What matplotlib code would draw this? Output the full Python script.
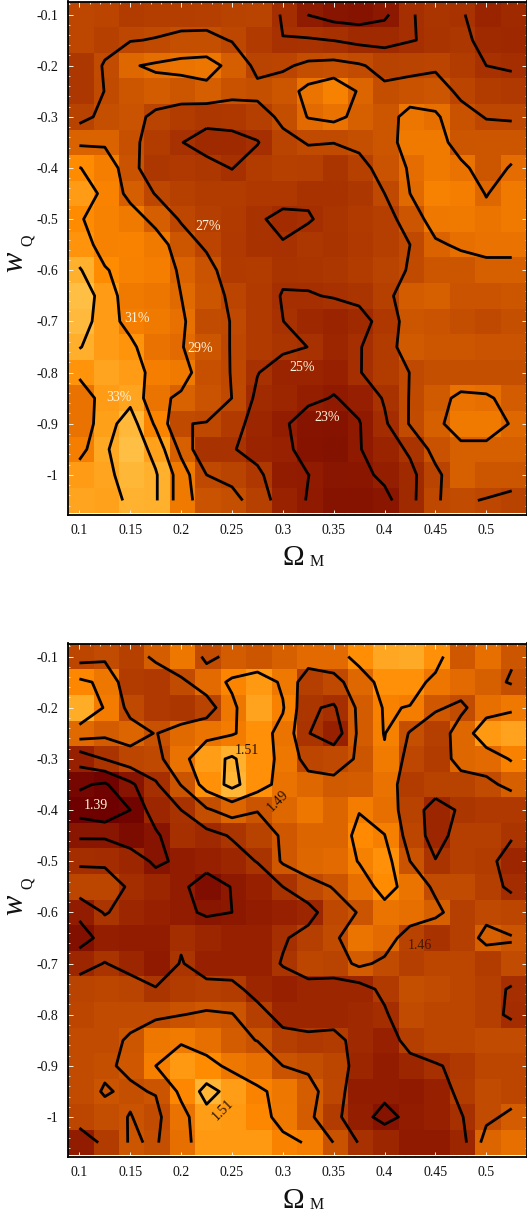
import numpy as np
import matplotlib
matplotlib.use('Agg')
import matplotlib.pyplot as plt
from matplotlib.colors import LinearSegmentedColormap, Normalize
from matplotlib.ticker import MultipleLocator, FixedLocator, FixedFormatter

plt.rcParams['font.family'] = ['Liberation Serif', 'DejaVu Serif']

omega_m = [0.1, 0.125, 0.15, 0.175, 0.2, 0.225, 0.25, 0.275, 0.3, 0.325, 0.35, 0.375, 0.4, 0.425, 0.45, 0.475, 0.5, 0.525]
w_q = [-0.1, -0.15, -0.2, -0.25, -0.3, -0.35, -0.4, -0.45, -0.5, -0.55, -0.6, -0.65, -0.7, -0.75, -0.8, -0.85, -0.9, -0.95, -1.0, -1.05]

pct = [
 [26.9,26.6,26.0,26.1,26.1,26.2,26.4,26.5,24.8,22.95,22.2,22.0,22.6,24.9,25.4,25.2,24.0,24.5],
 [26.8,26.3,26.9,27.1,27.5,27.5,26.9,25.8,25.04,25.2,24.95,24.5,24.4,24.9,25.3,25.5,24.4,24.3],
 [25.5,27.2,28.85,29.25,29.6,29.8,28.4,26.5,26.7,27.4,27.6,27.2,26.4,26.5,26.7,25.9,25.0,24.8],
 [25.5,27.05,28.0,28.3,28.0,28.4,27.7,27.5,28.0,29.6,30.5,28.8,27.4,27.7,27.9,26.6,26.0,25.7],
 [26.4,27.5,27.8,26.5,26.0,25.5,25.6,26.2,27.4,29.1,29.5,28.5,28.0,29.8,29.3,27.7,26.9,26.8],
 [28.7,28.7,27.6,26.0,25.05,24.4,24.5,24.9,26.5,27.1,27.05,27.5,28.0,30.0,30.0,28.0,28.0,28.0],
 [31.05,30.3,27.8,25.5,25.7,25.5,24.95,25.9,26.3,26.2,25.4,26.3,27.8,29.2,30.0,29.5,28.0,29.2],
 [32.0,30.6,28.4,26.9,26.3,26.0,25.9,25.6,25.6,25.2,25.2,25.5,27.0,29.0,30.5,30.3,28.9,30.0],
 [31.1,30.5,30.0,28.4,26.8,26.2,25.8,25.2,24.6,24.9,25.4,25.8,26.2,27.9,29.9,30.0,29.6,30.0],
 [31.6,30.5,30.6,30.0,28.0,26.65,25.7,25.2,25.1,25.5,25.3,25.7,26.2,27.0,28.7,29.3,29.5,29.5],
 [33.2,31.1,30.5,30.3,28.7,27.8,25.8,25.9,25.3,25.4,25.5,26.0,26.5,27.1,28.0,28.0,28.5,28.5],
 [34.5,32.0,30.0,29.8,29.0,28.0,26.6,25.8,24.9,24.9,25.1,25.4,26.3,28.3,28.5,27.8,27.8,28.0],
 [34.0,32.0,30.3,30.0,29.4,27.2,26.98,25.8,25.02,24.3,24.0,24.4,25.6,28.0,27.8,27.3,27.0,27.5],
 [33.1,32.0,31.5,29.5,29.1,28.0,26.9,25.8,25.4,24.98,24.2,24.9,25.9,28.2,28.0,28.0,27.8,27.8],
 [31.5,32.5,32.0,30.3,30.0,27.6,26.95,25.08,24.0,24.0,23.6,24.9,26.0,27.03,27.5,27.5,27.5,27.5],
 [29.5,32.0,32.5,29.6,28.6,27.8,26.99,24.56,24.2,23.4,22.9,23.5,25.2,27.1,28.2,29.5,29.3,28.3],
 [29.5,32.2,33.9,30.7,27.05,26.94,25.8,24.2,23.3,22.1,21.9,22.9,24.7,27.15,28.5,30.0,30.0,28.85],
 [30.3,32.7,34.5,32.3,28.5,25.2,25.2,24.0,23.7,22.0,21.8,22.9,24.0,25.3,27.7,28.5,28.5,28.5],
 [32.0,32.5,33.8,33.2,30.0,27.0,26.56,25.6,23.1,23.02,22.3,22.4,23.45,24.47,26.5,28.5,28.0,28.0],
 [32.5,32.3,33.3,33.2,30.0,27.8,27.5,26.3,23.85,22.9,22.0,22.0,22.4,24.4,26.95,27.2,26.9,26.4],
]

chi = [
 [1.455,1.46,1.451,1.471,1.485,1.46,1.47,1.467,1.472,1.478,1.478,1.499,1.512,1.514,1.50,1.468,1.48,1.467],
 [1.495,1.485,1.447,1.445,1.46,1.478,1.494,1.505,1.486,1.45,1.458,1.476,1.50,1.50,1.484,1.478,1.472,1.463],
 [1.515,1.488,1.458,1.445,1.443,1.453,1.485,1.51,1.492,1.443,1.437,1.47,1.492,1.489,1.468,1.46,1.48,1.486],
 [1.477,1.47,1.475,1.464,1.477,1.483,1.488,1.50,1.483,1.441,1.425,1.47,1.491,1.463,1.45,1.476,1.505,1.51],
 [1.425,1.441,1.455,1.458,1.482,1.507,1.518,1.50,1.485,1.455,1.458,1.467,1.487,1.456,1.447,1.476,1.478,1.492],
 [1.393,1.387,1.41,1.437,1.466,1.50,1.522,1.50,1.482,1.476,1.469,1.47,1.482,1.448,1.452,1.452,1.459,1.472],
 [1.38,1.37,1.39,1.43,1.44,1.462,1.475,1.466,1.476,1.485,1.475,1.489,1.48,1.452,1.43,1.443,1.445,1.445],
 [1.412,1.412,1.40,1.41,1.438,1.432,1.442,1.452,1.468,1.475,1.475,1.4965,1.4905,1.455,1.43,1.45,1.45,1.442],
 [1.436,1.435,1.43,1.41,1.42,1.425,1.43,1.441,1.468,1.476,1.478,1.491,1.50,1.465,1.441,1.45,1.447,1.43],
 [1.455,1.455,1.436,1.43,1.42,1.403,1.416,1.425,1.44,1.458,1.466,1.48,1.497,1.483,1.46,1.46,1.45,1.435],
 [1.42,1.442,1.43,1.425,1.42,1.412,1.415,1.42,1.425,1.43,1.457,1.466,1.483,1.48,1.472,1.45,1.458,1.455],
 [1.405,1.423,1.42,1.42,1.436,1.43,1.425,1.425,1.437,1.45,1.46,1.483,1.478,1.452,1.44,1.45,1.472,1.466],
 [1.43,1.441,1.43,1.418,1.442,1.425,1.425,1.425,1.442,1.455,1.453,1.47,1.46,1.45,1.455,1.455,1.447,1.46],
 [1.453,1.455,1.453,1.442,1.448,1.45,1.448,1.43,1.425,1.43,1.43,1.43,1.446,1.463,1.46,1.455,1.45,1.437],
 [1.455,1.46,1.46,1.46,1.4645,1.468,1.466,1.45,1.43,1.43,1.43,1.432,1.4365,1.46,1.455,1.455,1.45,1.435],
 [1.46,1.46,1.467,1.485,1.487,1.48,1.47,1.4645,1.45,1.445,1.447,1.432,1.425,1.45,1.455,1.455,1.46,1.46],
 [1.46,1.463,1.4675,1.49,1.505,1.497,1.485,1.48,1.465,1.462,1.455,1.43,1.42,1.43,1.438,1.445,1.455,1.455],
 [1.46,1.466,1.463,1.466,1.495,1.523,1.507,1.493,1.485,1.471,1.456,1.42,1.42,1.418,1.425,1.447,1.46,1.455],
 [1.455,1.461,1.4655,1.46,1.482,1.507,1.505,1.495,1.486,1.47,1.448,1.422,1.409,1.42,1.425,1.438,1.46,1.47],
 [1.42,1.447,1.467,1.463,1.48,1.505,1.505,1.505,1.493,1.489,1.4645,1.4385,1.43,1.418,1.418,1.43,1.475,1.48],
]

pct_levels = [23, 25, 27, 29, 31, 33]
chi_levels = [1.39, 1.415, 1.44, 1.465, 1.49, 1.515]
x_ticks = [0.1, 0.15, 0.2, 0.25, 0.3, 0.35, 0.4, 0.45, 0.5]
y_ticks = [-0.1, -0.2, -0.3, -0.4, -0.5, -0.6, -0.7, -0.8, -0.9, -1.0]
y_tick_labels = ['-0.1', '-0.2', '-0.3', '-0.4', '-0.5', '-0.6', '-0.7', '-0.8', '-0.9', '-1']
x_tick_labels = ['0.1', '0.15', '0.2', '0.25', '0.3', '0.35', '0.4', '0.45', '0.5']

cmap = LinearSegmentedColormap.from_list('heat', [
    (0.00, '#6e0000'), (0.25, '#962000'), (0.50, '#c85200'), (0.60, '#e87000'),
    (0.70, '#ff8a00'), (0.82, '#ffae2a'), (1.00, '#ffd060')])

W, H = 527, 1216

def panel(top, bottom, z, levels, vmin, vmax, labels):
    ax = plt.figure(1).add_axes([68/W, 1-bottom/H, (W-68)/W, (bottom-top)/H])
    x = np.array(omega_m); y = np.array(w_q); z = np.array(z)
    xe = np.append(x-0.0125, x[-1]+0.0125) + 0.0015
    ye = np.append(y+0.025, y[-1]-0.025)
    ax.pcolormesh(xe, ye, z, cmap=cmap, norm=Normalize(vmin, vmax), shading='flat',
                  antialiased=False, linewidth=0)
    ax.contour(x, y, z, levels=levels, colors='black', linewidths=2.0)
    ax.set_xlim(0.0888, 0.5400)
    ax.set_ylim(-1.0775, -0.0745)
    ax.xaxis.set_major_locator(FixedLocator(x_ticks))
    ax.xaxis.set_major_formatter(FixedFormatter(x_tick_labels))
    ax.yaxis.set_major_locator(FixedLocator(y_ticks))
    ax.yaxis.set_major_formatter(FixedFormatter(y_tick_labels))
    ax.xaxis.set_minor_locator(MultipleLocator(0.01))
    ax.yaxis.set_minor_locator(MultipleLocator(0.02))
    ax.tick_params(which='both', direction='in', top=True, right=True, color='#f4f0e0')
    ax.tick_params(which='major', length=3.6, width=0.7, labelsize=10, labelcolor='#111111', pad=7)
    ax.tick_params(which='minor', length=1.6, width=0.6)
    for s in ax.spines.values():
        s.set_linewidth(1.3); s.set_color('black')
    for (tx, ty, s, col, rot) in labels:
        ax.text(tx, ty, s, color=col, fontsize=10, rotation=rot, ha='center', va='center')
    return ax

fig = plt.figure(1, figsize=(W/100, H/100), dpi=100, facecolor='white')

panel(1.5, 514.5, pct, pct_levels, 19.5, 36.0, [
    (0.2265, -0.514, '27%', '#fff4dc', 0),
    (0.1566, -0.694, '31%', '#fff4dc', 0),
    (0.2186, -0.753, '29%', '#fff4dc', 0),
    (0.3190, -0.790, '25%', '#fff4dc', 0),
    (0.1390, -0.848, '33%', '#fff4dc', 0),
    (0.3436, -0.888, '23%', '#fff4dc', 0),
])
panel(643.5, 1156.7, chi, chi_levels, 1.385, 1.545, [
    (0.1160, -0.391, '1.39', '#fff4dc', 0),
    (0.2648, -0.283, '1.51', '#221000', 0),
    (0.2950, -0.383, '1.49', '#221000', 45),
    (0.4349, -0.664, '1.46', '#441800', 0),
    (0.2410, -0.987, '1.51', '#221000', 45),
])

for ycen in (558, 1201):
    fig.text(293/W, 1-ycen/H, '\u03a9', fontsize=21, ha='center', va='center', color='#111111')
    fig.text(317/W, 1-(ycen+4)/H, 'M', fontsize=11.5, ha='center', va='center', color='#111111')
for ycen in (253, 896):
    fig.text(15/W, 1-(ycen+9)/H, 'w', fontsize=22, style='italic', rotation=90, ha='center', va='center', color='#111111')
    fig.text(28/W, 1-(ycen-13)/H, 'Q', fontsize=11.5, rotation=90, ha='center', va='center', color='#111111')

fig.savefig('out.png', dpi=100)
